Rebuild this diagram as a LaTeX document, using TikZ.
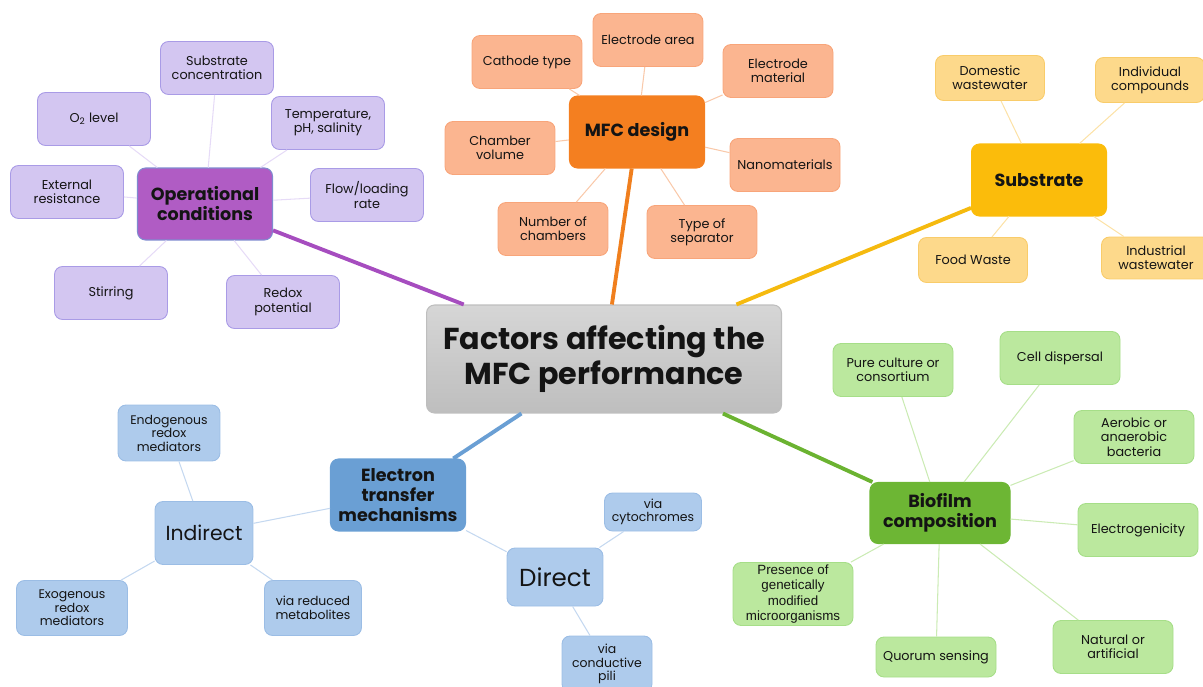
\documentclass[tikz,border=0pt]{standalone}
\usepackage{fontspec}
\setmainfont{Poppins}
\newfontfamily\arialfont{Liberation Sans}
\definecolor{tgray}{RGB}{202,202,202}
\definecolor{tgrayl}{RGB}{214,214,214}
\definecolor{tgrayd}{RGB}{190,190,190}
\definecolor{opmain}{RGB}{176,92,196}
\definecolor{opline}{RGB}{166,77,191}
\definecolor{opleaf}{RGB}{211,198,241}
\definecolor{opedge}{RGB}{169,155,230}
\definecolor{opthin}{RGB}{230,219,247}
\definecolor{dsmain}{RGB}{244,127,32}
\definecolor{dsline}{RGB}{240,127,30}
\definecolor{dsleaf}{RGB}{251,181,144}
\definecolor{dsedge}{RGB}{248,165,122}
\definecolor{dsthin}{RGB}{249,201,170}
\definecolor{sbmain}{RGB}{251,188,11}
\definecolor{sbline}{RGB}{245,186,15}
\definecolor{sbleaf}{RGB}{253,217,139}
\definecolor{sbedge}{RGB}{249,204,106}
\definecolor{sbthin}{RGB}{252,226,168}
\definecolor{bfmain}{RGB}{109,182,52}
\definecolor{bfline}{RGB}{107,179,49}
\definecolor{bfleaf}{RGB}{187,232,158}
\definecolor{bfedge}{RGB}{166,222,136}
\definecolor{bfthin}{RGB}{203,235,180}
\definecolor{etmain}{RGB}{106,159,212}
\definecolor{etline}{RGB}{106,159,212}
\definecolor{etleaf}{RGB}{174,203,236}
\definecolor{etedge}{RGB}{155,189,229}
\definecolor{etthin}{RGB}{196,216,240}

\begin{document}
\begin{tikzpicture}[x=0.02cm,y=-0.02cm,
  box/.style={rounded corners=0.16cm, align=center, inner sep=1pt, text=black!92},
  leaf/.style={box, font=\fontsize{7.3}{8.1}\selectfont, minimum width=2.2cm,
    minimum height=1.06cm, line width=0.5pt},
  hub/.style={box, font=\bfseries\fontsize{10}{11.4}\selectfont, minimum width=2.7cm,
    minimum height=1.44cm, line width=0.6pt},
  thin/.style={line width=0.6pt},
  branch/.style={line width=2.2pt}]
  \useasboundingbox (0,0) rectangle (1203,686);

  % centre
  \node[box, top color=tgrayl, bottom color=tgrayd, draw=tgrayd, line width=0.6pt,
    font=\bfseries\fontsize{17.2}{19.6}\selectfont, minimum width=7.1cm, minimum height=2.16cm]
    (title) at (604,359) {Factors affecting the\\MFC performance};

  % operational conditions
  \node[hub, fill=opmain, draw=etmain!70!opmain] (opcond) at (205,204) {Operational\\conditions};
  \tikzset{opl/.style={leaf, fill=opleaf, draw=opedge, minimum width=2.26cm}}
  \node[opl] (subconc) at (217,68) {Substrate\\concentration};
  \node[opl] (otwo) at (94,119) {O\textsubscript{2} level};
  \node[opl] (temp) at (328,123) {Temperature,\\pH, salinity};
  \node[opl] (extres) at (67,192) {External\\resistance};
  \node[opl] (flow) at (367,195) {Flow/loading\\rate};
  \node[opl] (stir) at (111,293) {Stirring};
  \node[opl] (redox) at (283,302) {Redox\\potential};
  \foreach \n in {subconc,otwo,temp,extres,flow,stir,redox}
    \draw[thin, opthin] (opcond) -- (\n);
  \draw[branch, opline] (title) -- (opcond);

  % MFC design
  \node[hub, fill=dsmain, draw=dsmain] (design) at (637,132) {MFC design};
  \tikzset{dsl/.style={leaf, fill=dsleaf, draw=dsedge}}
  \node[dsl] (cathode) at (527,62) {Cathode type};
  \node[dsl] (elarea) at (648,40) {Electrode area};
  \node[dsl] (elmat) at (778,71) {Electrode\\material};
  \node[dsl] (chvol) at (500,148) {Chamber\\volume};
  \node[dsl] (nano) at (785,165) {Nanomaterials};
  \node[dsl] (nchamb) at (553,229) {Number of\\chambers};
  \node[dsl] (sep) at (702,232) {Type of\\separator};
  \foreach \n in {cathode,elarea,elmat,chvol,nano,nchamb,sep}
    \draw[thin, dsthin] (design) -- (\n);
  \draw[branch, dsline] (title) -- (design);

  % substrate
  \node[hub, fill=sbmain, draw=sbmain] (substrate) at (1039,180) {Substrate};
  \tikzset{sbl/.style={leaf, fill=sbleaf, draw=sbedge, minimum width=2.18cm, minimum height=0.9cm}}
  \node[sbl] (domestic) at (990,78) {Domestic\\wastewater};
  \node[sbl] (indiv) at (1150,80) {Individual\\compounds};
  \node[sbl] (food) at (973,260) {Food Waste};
  \node[sbl, minimum height=0.84cm] (industrial) at (1156,258) {Industrial\\wastewater};
  \foreach \n in {domestic,indiv,food,industrial}
    \draw[thin, sbthin] (substrate) -- (\n);
  \draw[branch, sbline] (title) -- (substrate);

  % biofilm composition
  \node[hub, fill=bfmain, draw=bfmain, minimum width=2.8cm, minimum height=1.22cm]
    (biofilm) at (940,513) {Biofilm\\composition};
  \tikzset{bfl/.style={leaf, fill=bfleaf, draw=bfedge, minimum width=2.4cm}}
  \node[bfl] (pure) at (893,370) {Pure culture or\\consortium};
  \node[bfl] (dispersal) at (1060,358) {Cell dispersal};
  \node[bfl] (aerobic) at (1134,437) {Aerobic or\\anaerobic\\bacteria};
  \node[bfl] (electro) at (1138,530) {Electrogenicity};
  \node[bfl, minimum height=1.26cm, font=\arialfont\fontsize{7.6}{8.6}\selectfont]
    (gmo) at (793,594) {Presence of\\genetically\\modified\\microorganisms};
  \node[bfl, minimum height=0.8cm] (quorum) at (936,657) {Quorum sensing};
  \node[bfl] (natural) at (1113,647) {Natural or\\artificial};
  \foreach \n in {pure,dispersal,aerobic,electro,gmo,quorum,natural}
    \draw[thin, bfthin] (biofilm) -- (\n);
  \draw[branch, bfline] (title) -- (biofilm);

  % electron transfer mechanisms
  \node[hub, fill=etmain, draw=etmain] (etm) at (398,495) {Electron\\transfer\\mechanisms};
  \tikzset{etl/.style={leaf, fill=etleaf, draw=etedge, font=\fontsize{7.1}{7.7}\selectfont}}
  \node[etl, minimum width=1.96cm, minimum height=1.26cm, font=\fontsize{11.6}{13}\selectfont]
    (indirect) at (204,533) {Indirect};
  \node[etl, minimum width=1.92cm, minimum height=1.16cm, font=\fontsize{14}{16}\selectfont]
    (direct) at (555,577) {Direct};
  \node[etl, minimum width=2.04cm, minimum height=1.12cm] (endo) at (169,433) {Endogenous\\redox\\mediators};
  \node[etl, minimum width=2.22cm, minimum height=1.1cm] (exo) at (72,608) {Exogenous\\redox\\mediators};
  \node[etl, minimum width=1.94cm, minimum height=1.1cm] (metab) at (313,608) {via reduced\\metabolites};
  \node[etl, minimum width=1.94cm, minimum height=0.76cm] (cyto) at (653,512) {via\\cytochromes};
  \node[etl, minimum width=1.8cm, minimum height=1.12cm] (pili) at (607,664) {via\\conductive\\pili};
  \foreach \n in {endo,exo,metab}
    \draw[thin, etthin] (indirect) -- (\n);
  \foreach \n in {cyto,pili}
    \draw[thin, etthin] (direct) -- (\n);
  \draw[thin, etthin] (etm) -- (indirect);
  \draw[thin, etthin] (etm) -- (direct);
  \draw[branch, etline] (title) -- (etm);
\end{tikzpicture}
\end{document}
